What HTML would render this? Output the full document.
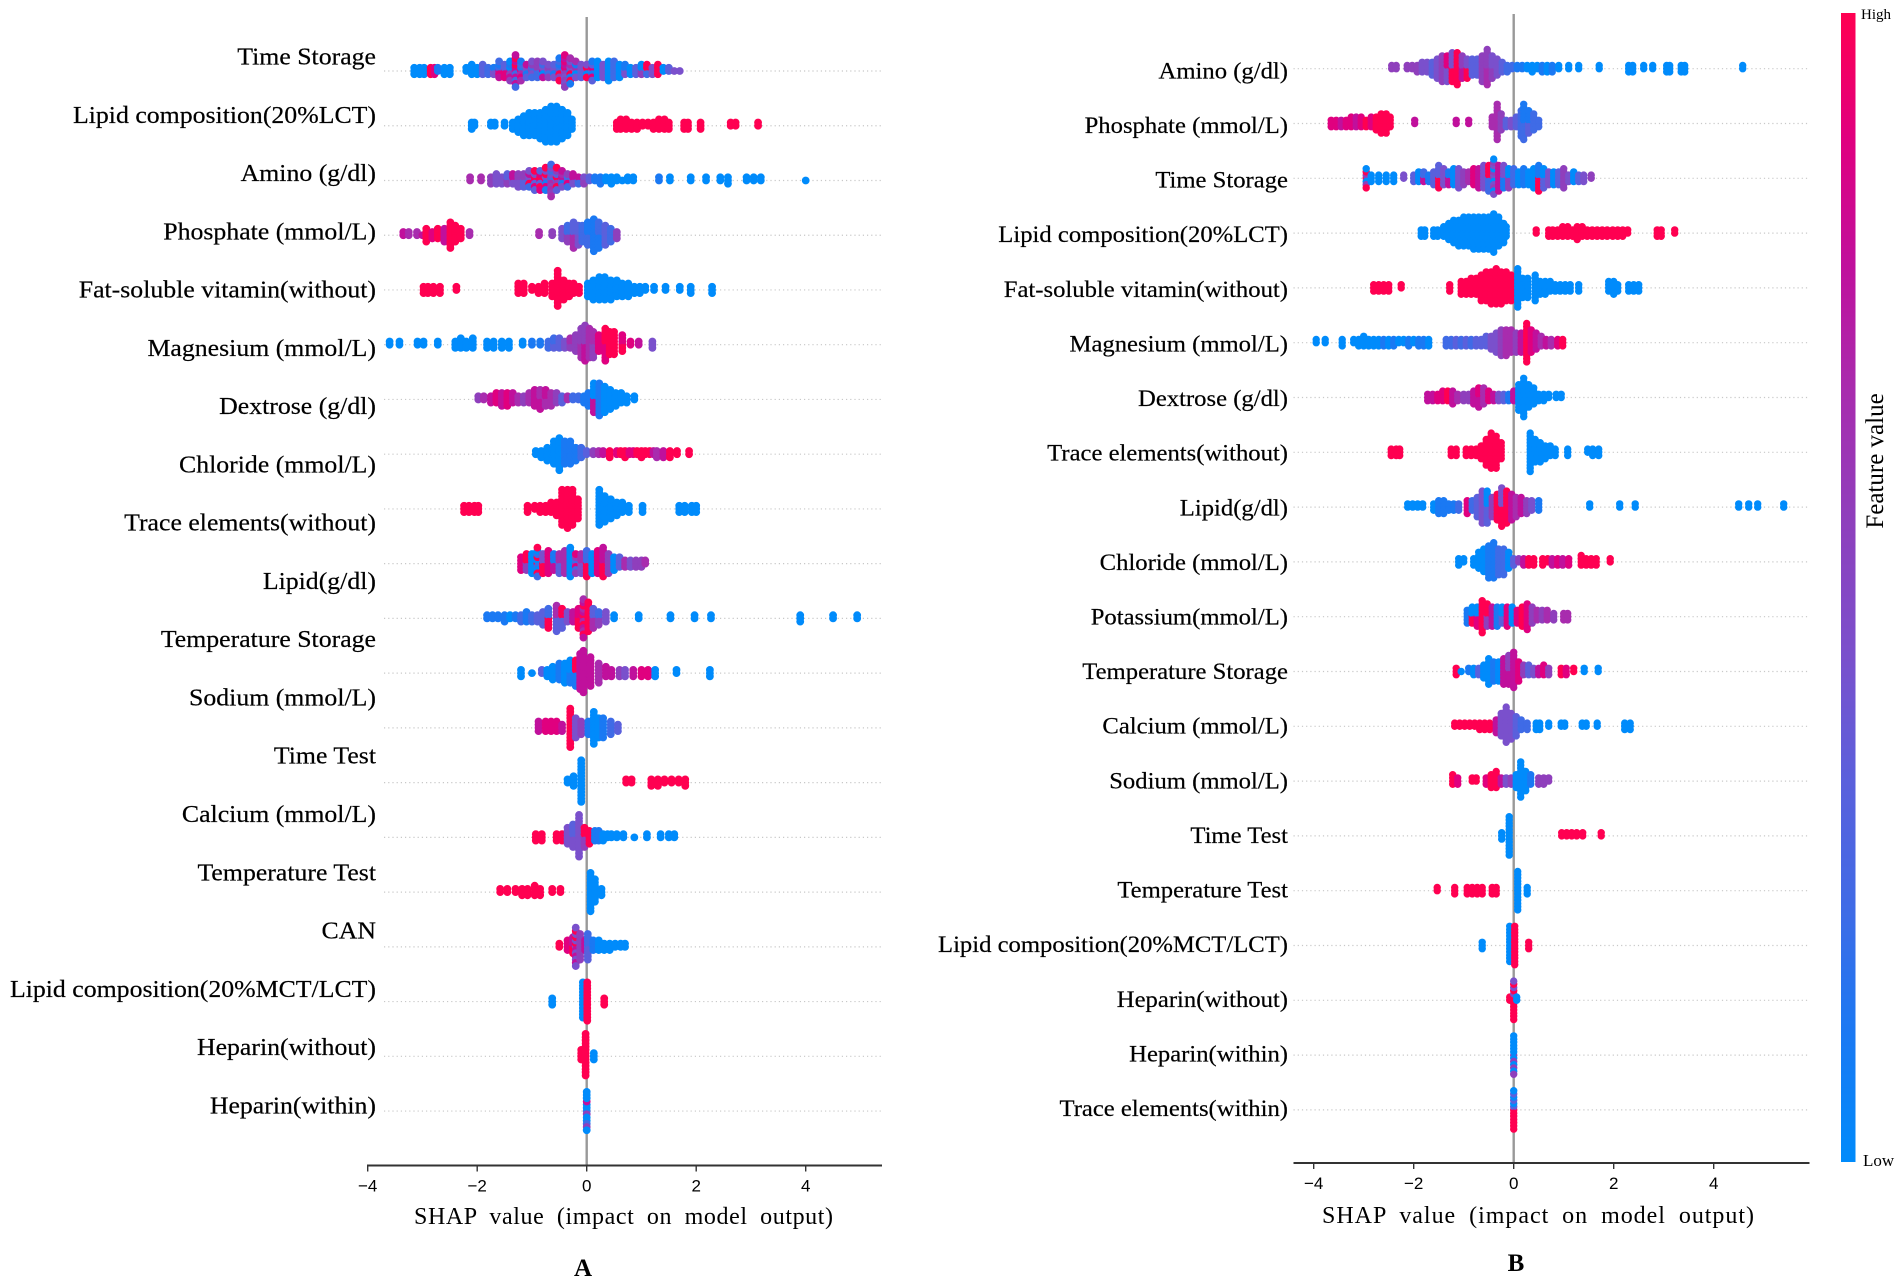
<!DOCTYPE html>
<html lang="en">
<head>
<meta charset="utf-8">
<title>SHAP summary plots A and B</title>
<style>
html,body{margin:0;padding:0;background:#fff;width:1902px;height:1285px;overflow:hidden}
svg{display:block}
text{font-family:"Liberation Serif",serif;fill:#000}
</style>
</head>
<body>
<svg id="chart" width="1902" height="1285" viewBox="0 0 1902 1285" xmlns="http://www.w3.org/2000/svg">
<defs>
<linearGradient id="barGrad" x1="0" y1="1" x2="0" y2="0">
<stop offset="0" stop-color="#008bfb"/><stop offset=".11" stop-color="#1a79f3"/><stop offset=".22" stop-color="#3f6be6"/><stop offset=".33" stop-color="#5a60dc"/><stop offset=".44" stop-color="#7a50cc"/><stop offset=".56" stop-color="#8f3fbc"/><stop offset=".67" stop-color="#a82cae"/><stop offset=".78" stop-color="#c0109c"/><stop offset=".89" stop-color="#e0007f"/><stop offset="1" stop-color="#ff0051"/>
</linearGradient>
</defs>
<rect x="1841" y="13" width="14.5" height="1149" fill="url(#barGrad)"/>
<text x="1861" y="19" font-size="15">High</text>
<text x="1863" y="1166" font-size="17">Low</text>
<text transform="translate(1883,461) rotate(-90)" text-anchor="middle" font-size="25">Feature value</text>
<text x="414" y="1224" font-size="24" word-spacing="6px" textLength="419">SHAP value (impact on model output)</text>
<text x="1322" y="1223" font-size="24" word-spacing="6px" textLength="432">SHAP value (impact on model output)</text>
<text x="583" y="1276" font-size="25" font-weight="bold" text-anchor="middle">A</text>
<text x="1516" y="1271" font-size="25" font-weight="bold" text-anchor="middle">B</text>
</svg>
<script>
/* Tick labels and categories */
const tickValues = [-4, -2, 0, 2, 4];
const labelsA = ["Time Storage","Lipid composition(20%LCT)","Amino (g/dl)","Phosphate (mmol/L)","Fat-soluble vitamin(without)","Magnesium (mmol/L)","Dextrose (g/dl)","Chloride (mmol/L)","Trace elements(without)","Lipid(g/dl)","Temperature Storage","Sodium (mmol/L)","Time Test","Calcium (mmol/L)","Temperature Test","CAN","Lipid composition(20%MCT/LCT)","Heparin(without)","Heparin(within)"];
const labelsB = ["Amino (g/dl)","Phosphate (mmol/L)","Time Storage","Lipid composition(20%LCT)","Fat-soluble vitamin(without)","Magnesium (mmol/L)","Dextrose (g/dl)","Trace elements(without)","Lipid(g/dl)","Chloride (mmol/L)","Potassium(mmol/L)","Temperature Storage","Calcium (mmol/L)","Sodium (mmol/L)","Time Test","Temperature Test","Lipid composition(20%MCT/LCT)","Heparin(without)","Heparin(within)","Trace elements(within)"];

/* Series: for each row, binned SHAP values, samples per bin, feature deciles per bin (digits 0=low..9=high) */
const aShap0=[-3.15,-3.05,-2.97,-2.85,-2.78,-2.72,-2.6,-2.5,-2.2,-2.1,-2,-1.9,-1.8,-1.7,-1.6,-1.5,-1.4,-1.3,-1.2,-1.1,-1,-.9,-.8,-.7,-.6,-.5,-.4,-.3,-.2,-.1,0,.1,.2,.3,.4,.5,.6,.7,.8,.9,1,1.1,1.2,1.3,1.4,1.5,1.6,1.7];
const aN0=[3,3,3,3,3,2,3,3,2,4,3,4,3,3,6,5,7,11,7,5,6,6,6,5,5,8,11,9,6,5,5,7,6,5,7,6,5,4,3,3,4,4,3,4,2,2,1,1];
const aF0=[0,0,0,9,8,1,0,0,0,0,0,3,2,41,7281,83,7051,7729,8162,3417,524,25,7402,452,341,5291,4857,1496,4601,34,490,381,0,4,0,2,0,41,0,3,50,29,4,9,0,3,4,4];
const aShap1=[-2.1,-2.05,-1.75,-1.68,-1.5,-1.35,-1.25,-1.15,-1.05,-.95,-.85,-.75,-.65,-.55,-.45,-.35,-.27,.55,.62,.72,.82,.92,1.02,1.12,1.22,1.32,1.42,1.5,1.78,1.85,2.08,2.63,2.72,3.13];
const aN1=[3,2,2,2,2,3,5,7,8,8,9,11,12,12,10,8,4,3,4,4,3,3,2,2,3,4,4,3,3,3,3,2,2,2];
const aF1=[0,0,0,0,0,0,0,0,0,0,0,0,0,0,0,0,0,9,9,9,9,9,9,9,9,9,9,9,9,9,9,9,9,9];
const aShap2=[-2.13,-1.93,-1.75,-1.65,-1.55,-1.45,-1.35,-1.25,-1.15,-1.05,-.95,-.85,-.75,-.65,-.55,-.45,-.35,-.25,-.15,-.05,.05,.15,.25,.35,.45,.55,.65,.75,.85,1.32,1.52,1.9,2.18,2.44,2.58,2.92,3.05,3.18,4];
const aN2=[2,2,3,4,3,4,4,5,5,6,7,7,8,11,8,6,5,4,3,3,2,2,3,2,3,2,1,2,2,2,2,2,2,2,3,2,2,2,1];
const aF2=[6,6,5,4,4,53,47,45,35,2497,8934,893,8419,5264,395,4716,528,47,27,54,3,1,1,0,0,0,0,0,0,1,0,0,0,0,0,0,0,0,0];
const aShap3=[-3.35,-3.25,-3.1,-3,-2.93,-2.82,-2.72,-2.6,-2.49,-2.4,-2.3,-2.14,-.87,-.63,-.45,-.35,-.24,-.15,-.08,.02,.13,.22,.34,.44,.55];
const aN3=[2,2,2,1,5,3,4,5,9,6,4,2,2,2,4,6,9,7,6,8,11,9,7,5,3];
const aF3=[7,6,6,7,9,8,9,7,9,9,9,6,6,5,4,52,63,43,2,21,1,12,3,2,5];
const aShap4=[-2.98,-2.9,-2.8,-2.68,-2.38,-1.25,-1.15,-1,-.88,-.77,-.63,-.53,-.42,-.32,-.24,-.14,.02,.12,.23,.33,.44,.55,.65,.76,.87,.97,1.07,1.23,1.44,1.7,1.9,2.29];
const aN4=[3,3,3,3,2,4,4,2,3,4,5,12,7,5,4,3,5,7,8,8,7,6,5,5,3,3,2,2,2,2,3,3];
const aF4=[9,9,9,9,9,9,9,9,9,9,9,9,9,9,9,9,0,0,0,0,0,0,0,0,0,0,0,0,0,0,0,0];
const aShap5=[-3.6,-3.42,-3.09,-2.98,-2.72,-2.4,-2.3,-2.2,-2.08,-1.82,-1.7,-1.55,-1.42,-1.17,-1,-.85,-.7,-.6,-.5,-.4,-.3,-.2,-.1,-.03,.05,.12,.22,.34,.42,.5,.65,.8,.95,1.2];
const aN5=[2,2,2,2,2,3,4,3,4,3,3,3,3,2,2,2,3,4,4,3,4,6,10,12,10,9,6,11,8,8,6,2,2,3];
const aF5=[0,0,0,0,0,0,0,0,0,0,0,0,0,0,1,1,2,32,3,4,56,5,65,75,6,56,8,89,9,9,98,8,7,4];
const aShap6=[-1.98,-1.88,-1.75,-1.65,-1.55,-1.45,-1.35,-1.25,-1.15,-1.05,-.95,-.85,-.75,-.65,-.55,-.45,-.35,-.25,-.15,-.05,.03,.13,.23,.33,.43,.53,.63,.73,.87];
const aN6=[2,2,3,4,5,5,4,3,3,4,6,7,6,5,4,3,2,2,2,3,5,10,11,9,7,5,4,3,2];
const aF6=[5,6,7,8,7,8,7,6,5,6,7,76,67,6,5,3,6,2,2,1,1,70,1,0,0,0,0,0,0];
const aShap7=[-.93,-.83,-.72,-.6,-.5,-.4,-.3,-.2,-.1,0,.12,.22,.3,.42,.55,.62,.7,.78,.85,.92,1,1.07,1.15,1.22,1.28,1.4,1.52,1.65,1.87];
const aN7=[2,3,5,8,11,8,8,5,4,2,2,2,2,3,2,2,3,2,2,2,3,2,2,2,3,3,3,2,2];
const aF7=[0,0,0,0,0,1,1,1,2,3,5,6,7,9,8,9,9,8,8,9,9,9,9,7,6,7,9,9,9];
const aShap8=[-2.24,-2.15,-2.05,-1.98,-1.08,-.95,-.85,-.75,-.65,-.55,-.45,-.35,-.26,-.16,.23,.33,.44,.55,.65,.77,1.02,1.69,1.79,1.92,2];
const aN8=[3,3,3,3,3,2,3,3,4,5,12,13,12,7,12,9,7,5,4,3,3,3,3,3,3];
const aF8=[9,9,9,9,9,9,9,9,9,9,9,9,9,9,0,0,0,0,0,0,0,0,0,0,0];
const aShap9=[-1.2,-1.1,-1,-.9,-.8,-.7,-.6,-.5,-.4,-.3,-.2,-.1,0,.1,.2,.3,.4,.5,.6,.7,.8,.9,1,1.07];
const aN9=[5,6,7,10,7,8,6,7,8,10,7,7,9,7,8,10,7,5,4,3,3,3,3,2];
const aF9=[8,59,0,902,94,8,71,36,6,0,528,46,92,0,8,97,5,0,3,6,4,5,5,6];
const aShap10=[-1.82,-1.72,-1.62,-1.5,-1.4,-1.3,-1.2,-1.1,-1,-.9,-.8,-.7,-.55,-.45,-.35,-.25,-.15,-.06,.03,.12,.22,.35,.5,.95,1.53,1.97,2.27,3.9,4.5,4.94];
const aN10=[2,2,2,3,2,2,3,4,3,3,5,7,9,7,4,4,7,13,10,7,5,4,2,2,2,2,2,3,2,2];
const aF10=[1,1,1,1,0,1,2,1,2,3,3,92,36,39,4,7,98,796,9,63,52,4,0,0,0,0,0,0,0,0];
const aShap11=[-1.2,-1,-.82,-.72,-.62,-.5,-.4,-.3,-.2,-.12,-.06,.07,.22,.35,.45,.6,.7,.85,1,1.12,1.25,1.64,2.25];
const aN11=[3,1,2,3,5,6,7,8,9,12,14,10,7,4,3,3,3,3,3,3,3,2,3];
const aF11=[0,0,3,0,0,1,0,10,19,7,7,7,6,7,7,5,4,7,8,8,0,0,0];
const aShap12=[-.88,-.75,-.65,-.55,-.45,-.3,-.2,-.1,.03,.13,.22,.3,.44,.57];
const aN12=[4,4,4,4,3,13,7,5,5,11,7,7,5,3];
const aF12=[7,8,8,8,7,9,4,5,1,0,0,1,2,3];
const aShap13=[-.35,-.24,-.1,.72,.82,1.18,1.3,1.42,1.55,1.68,1.8];
const aN13=[2,4,14,2,2,3,3,2,2,2,3];
const aF13=[0,0,0,9,9,9,9,9,9,9,9];
const aShap14=[-.93,-.82,-.55,-.45,-.35,-.25,-.14,-.04,.05,.15,.22,.3,.38,.45,.55,.67,.87,1.1,1.35,1.5,1.6];
const aN14=[3,3,3,3,6,8,14,7,5,4,4,3,2,2,2,2,1,2,2,2,2];
const aF14=[9,9,9,9,4,43,4,59,9,1,1,0,0,0,0,0,0,0,0,0,0];
const aShap15=[-1.58,-1.45,-1.3,-1.18,-1.08,-.95,-.85,-.63,-.48,.07,.15,.27];
const aN15=[2,2,2,3,3,4,3,2,2,13,8,3];
const aF15=[9,9,9,9,9,9,9,9,9,0,0,0];
const aShap16=[-.5,-.35,-.25,-.2,-.12,-.03,.02,.12,.22,.32,.42,.52,.62,.7];
const aN16=[2,4,6,13,9,4,9,4,4,3,3,2,2,2];
const aF16=[9,8,97,4974,5,7,32,1,0,0,0,0,0,0];
const aShap17=[-.63,-.07,.01,.32];
const aN17=[3,12,13,3];
const aF17=[0,0,9,9];
const aShap18=[-.1,-.02,.13];
const aN18=[4,14,3];
const aF18=[9,9,0];
const aShap19=[0];
const aN19=[13];
const aF19=[20500700];

const bShap0=[-2.44,-2.35,-2.13,-2.03,-1.93,-1.83,-1.73,-1.63,-1.53,-1.43,-1.33,-1.23,-1.13,-1.03,-.93,-.83,-.73,-.63,-.53,-.43,-.33,-.23,-.13,-.03,.07,.17,.27,.37,.47,.57,.67,.77,.9,1.1,1.3,1.71,2.3,2.38,2.6,2.78,3.06,3.12,3.35,3.42,4.58];
const bN0=[2,2,2,2,3,4,4,5,7,9,9,10,11,8,7,6,6,9,12,8,6,4,3,2,2,2,2,3,2,3,3,3,2,2,2,2,3,3,2,2,3,3,3,3,2];
const bF0=[5,5,5,5,5,4,4,3,4,5,48,94,9,75,94,3,3,5,65,54,4,3,2,2,1,1,0,0,0,1,0,1,0,0,0,0,0,0,0,0,0,0,0,0,0];
const bShap1=[-3.65,-3.55,-3.45,-3.35,-3.25,-3.15,-3.05,-2.95,-2.85,-2.75,-2.65,-2.55,-2.47,-1.98,-1.15,-.9,-.43,-.33,-.25,-.15,-.05,.05,.15,.2,.3,.4,.5];
const bN1=[3,3,3,3,4,4,4,3,4,5,7,7,4,2,2,2,4,12,6,3,3,4,9,12,8,6,3];
const bF1=[8,8,7,8,8,7,8,9,8,9,9,9,9,7,7,7,6,6,5,3,4,3,2,21,31,2,2];
const bShap2=[-2.95,-2.85,-2.7,-2.55,-2.4,-2.2,-2,-1.9,-1.8,-1.7,-1.6,-1.5,-1.4,-1.3,-1.2,-1.1,-1,-.9,-.8,-.7,-.6,-.5,-.4,-.3,-.2,-.1,0,.1,.2,.3,.4,.5,.6,.7,.8,.9,1,1.1,1.2,1.3,1.4,1.55];
const bN2=[7,3,3,3,3,2,3,4,4,3,5,8,6,5,6,7,5,4,6,7,8,9,12,9,8,7,6,5,6,5,7,9,7,5,5,5,7,3,4,3,3,2];
const bF2=[950,0,0,0,0,4,3,0,72,1,3,93,4,71,0,4,5,6,8,7,4,29,540,7,14,50,2,0,1,0,0,91,30,4,0,3,5,4,0,3,4,5];
const bShap3=[-1.85,-1.78,-1.6,-1.52,-1.4,-1.3,-1.2,-1.1,-1,-.9,-.8,-.7,-.6,-.5,-.4,-.3,-.2,-.15,.45,.7,.78,.88,.98,1.08,1.18,1.27,1.37,1.47,1.57,1.67,1.77,1.87,1.98,2.08,2.18,2.28,2.87,2.95,3.22];
const bN3=[3,3,3,3,4,6,8,9,10,10,11,11,11,11,13,10,7,4,2,3,3,3,4,4,3,5,4,3,3,3,3,3,3,3,3,2,3,3,2];
const bF3=[0,0,0,0,0,0,0,0,0,0,0,0,0,0,0,0,0,0,9,9,9,9,9,9,9,9,9,9,9,9,9,9,9,9,9,9,9,9,9];
const bShap4=[-2.8,-2.7,-2.6,-2.5,-2.25,-1.28,-1.05,-.95,-.85,-.75,-.65,-.55,-.45,-.35,-.25,-.15,-.05,.08,.18,.28,.43,.53,.63,.73,.83,.93,1.03,1.13,1.3,1.9,2,2.08,2.3,2.4,2.5];
const bN4=[3,3,3,3,2,3,5,5,6,6,9,10,11,12,11,10,9,13,7,7,9,5,5,4,3,3,3,3,3,4,5,3,3,3,3];
const bF4=[9,9,9,9,9,9,9,9,9,9,9,9,9,9,9,9,9,0,0,0,0,0,0,0,0,0,0,0,0,0,0,0,0,0,0];
const bShap5=[-3.95,-3.77,-3.43,-3.2,-3.1,-3,-2.9,-2.8,-2.7,-2.6,-2.5,-2.4,-2.3,-2.2,-2.1,-2,-1.9,-1.8,-1.7,-1.35,-1.25,-1.15,-1.05,-.95,-.85,-.75,-.65,-.55,-.45,-.35,-.25,-.15,-.05,.05,.15,.26,.35,.45,.55,.65,.75,.88,.98];
const bN5=[2,2,3,2,3,4,3,3,3,3,3,3,2,2,3,2,3,3,3,3,3,3,3,3,3,3,3,4,5,7,9,9,8,7,7,13,8,6,4,3,3,3,3];
const bF5=[0,0,0,0,0,0,0,0,0,1,0,1,0,0,1,0,1,1,0,2,2,3,2,3,2,3,3,3,4,4,5,6,6,5,7,9,8,7,6,7,6,8,9];
const bShap6=[-1.72,-1.62,-1.52,-1.42,-1.32,-1.22,-1.12,-1,-.9,-.8,-.7,-.6,-.5,-.4,-.3,-.2,-.1,0,.1,.2,.3,.4,.5,.6,.7,.85,.95];
const bN6=[3,3,3,4,4,5,3,3,3,5,7,6,4,3,3,3,3,4,9,13,8,6,3,3,2,2,2];
const bF6=[7,7,8,8,9,7,6,5,5,7,78,6,8,7,4,3,1,7,0,0,0,0,0,0,0,0,0];
const bShap7=[-2.45,-2.35,-2.28,-1.25,-1.15,-.95,-.85,-.75,-.65,-.55,-.45,-.35,-.25,.33,.43,.53,.63,.73,.83,1.08,1.48,1.58,1.7];
const bN7=[3,3,3,3,3,3,3,3,5,9,12,11,6,13,8,7,5,4,3,3,2,3,3];
const bF7=[9,9,9,9,9,9,9,9,9,9,9,9,9,0,0,0,0,0,0,0,0,0,0];
const bShap8=[-2.12,-2.02,-1.92,-1.82,-1.6,-1.5,-1.4,-1.3,-1.2,-1.1,-.93,-.83,-.73,-.63,-.53,-.43,-.33,-.24,-.14,-.04,.05,.15,.26,.36,.5,1.52,2.12,2.43,4.5,4.7,4.88,5.4];
const bN8=[2,2,2,2,3,5,5,3,3,3,5,4,7,11,11,7,9,13,11,9,7,6,5,4,4,2,2,2,2,2,2,2];
const bF8=[0,0,0,0,0,1,1,1,1,2,8,2,3,4,30,5,9,94,9,7,6,7,5,4,1,0,0,0,0,0,0,0];
const bShap9=[-1.1,-1,-.8,-.7,-.6,-.5,-.4,-.3,-.2,-.1,0,.1,.2,.3,.4,.58,.68,.77,.88,.98,1.1,1.35,1.45,1.55,1.65,1.93];
const bN9=[3,2,3,6,8,11,12,9,9,6,3,2,3,3,3,3,2,3,3,3,3,4,3,3,3,2];
const bF9=[0,0,0,0,0,1,1,2,2,0,3,5,7,9,9,9,9,7,8,7,8,9,9,9,9,9];
const bShap10=[-.93,-.83,-.73,-.63,-.53,-.43,-.33,-.23,-.13,-.03,.07,.17,.27,.37,.47,.57,.67,.8,1,1.08];
const bN10=[5,6,7,11,8,7,7,6,7,6,5,7,9,6,4,4,4,3,3,3];
const bF10=[1,90,80,9,59,7,1,30,8,0,8,9,8,5,6,5,6,5,6,6];
const bShap11=[-1.15,-1.05,-.9,-.8,-.7,-.6,-.5,-.4,-.3,-.2,-.1,0,.1,.2,.3,.4,.5,.6,.7,.95,1.05,1.2,1.41,1.69];
const bN11=[3,1,2,3,3,5,9,7,7,9,10,12,7,4,4,3,3,4,3,3,3,2,2,2];
const bF11=[9,0,1,0,3,0,0,1,0,7,75,7,8,5,3,4,7,8,5,9,8,9,0,0];
const bShap12=[-1.18,-1.08,-.98,-.88,-.78,-.68,-.58,-.48,-.35,-.25,-.15,-.05,.05,.15,.27,.45,.52,.7,.95,1.02,1.37,1.45,1.67,2.22,2.33];
const bN12=[2,2,2,2,2,3,3,3,5,8,12,9,7,4,3,3,3,2,2,2,2,2,2,3,3];
const bF12=[9,9,9,9,9,9,9,9,7,4,4,4,3,2,2,0,0,0,0,0,0,0,0,0,0];
const bShap13=[-1.22,-1.12,-.83,-.75,-.55,-.45,-.35,-.25,-.15,-.05,.05,.14,.24,.34,.5,.6,.7];
const bN13=[4,3,2,2,3,5,6,3,3,3,5,12,7,4,3,3,2];
const bF13=[9,8,9,9,8,9,9,7,4,5,0,0,0,1,5,5,5];
const bShap14=[-.24,-.09,.96,1.06,1.16,1.26,1.38,1.75];
const bN14=[3,13,2,2,2,2,2,2];
const bF14=[0,0,9,9,9,9,9,9];
const bShap15=[-1.53,-1.18,-.93,-.83,-.73,-.63,-.43,-.35,.08,.27];
const bN15=[2,3,3,3,3,3,3,3,13,3];
const bF15=[9,9,9,9,9,9,9,9,0,0];
const bShap16=[-.63,-.08,.02,.3];
const bN16=[3,12,13,3];
const bF16=[0,0,9,9];
const bShap17=[-.08,0,.06];
const bN17=[2,13,2];
const bF17=[9,9994,0];
const bShap18=[0];
const bN18=[13];
const bF18=[5000];
const bShap19=[0];
const bN19=[13];
const bF19=[9390];

const rowsA=[[aShap0,aN0,aF0],[aShap1,aN1,aF1],[aShap2,aN2,aF2],[aShap3,aN3,aF3],[aShap4,aN4,aF4],[aShap5,aN5,aF5],[aShap6,aN6,aF6],[aShap7,aN7,aF7],[aShap8,aN8,aF8],[aShap9,aN9,aF9],[aShap10,aN10,aF10],[aShap11,aN11,aF11],[aShap12,aN12,aF12],[aShap13,aN13,aF13],[aShap14,aN14,aF14],[aShap15,aN15,aF15],[aShap16,aN16,aF16],[aShap17,aN17,aF17],[aShap18,aN18,aF18],[aShap19,aN19,aF19]];
const rowsB=[[bShap0,bN0,bF0],[bShap1,bN1,bF1],[bShap2,bN2,bF2],[bShap3,bN3,bF3],[bShap4,bN4,bF4],[bShap5,bN5,bF5],[bShap6,bN6,bF6],[bShap7,bN7,bF7],[bShap8,bN8,bF8],[bShap9,bN9,bF9],[bShap10,bN10,bF10],[bShap11,bN11,bF11],[bShap12,bN12,bF12],[bShap13,bN13,bF13],[bShap14,bN14,bF14],[bShap15,bN15,bF15],[bShap16,bN16,bF16],[bShap17,bN17,bF17],[bShap18,bN18,bF18],[bShap19,bN19,bF19]];

const decileColors=['#008bfb','#1a79f3','#3f6be6','#5a60dc','#7a50cc','#8f3fbc','#a82cae','#c0109c','#e0007f','#ff0051'];
const svg=document.getElementById('chart');
const NS='http://www.w3.org/2000/svg';
function make(tag,parent){const el=document.createElementNS(NS,tag);parent.appendChild(el);return el;}

function drawPanel(p){
  const g=make('g',svg);
  
  
  const sx=v=>p.x0+p.unit*v;
  const sy=i=>p.y0+p.rowStep*i;
  p.rows.forEach((r,i)=>{
    const ln=make('line',g);
    
    
    ln.setAttribute('x1',p.left);ln.setAttribute('x2',p.right);
    ln.setAttribute('y1',sy(i));ln.setAttribute('y2',sy(i));
    ln.setAttribute('stroke','#c8c8c8');ln.setAttribute('stroke-width','1.2');ln.setAttribute('stroke-dasharray','1.2 3');
  });
  const zero=make('line',g);
  
  
  zero.setAttribute('x1',sx(0));zero.setAttribute('x2',sx(0));
  zero.setAttribute('y1',p.top);zero.setAttribute('y2',p.axisY);
  zero.setAttribute('stroke','#999');zero.setAttribute('stroke-width','2.4');
  p.rows.forEach((r,i)=>{
    const shap=r[0],count=r[1],feat=r[2];
    shap.forEach((v,c)=>{
      const digits=String(feat[c]);
      for(let k=0;k<count[c];k++){
        const off=Math.ceil(k/2)*(k%2?-1:1)*p.stackStep;
        const dot=make('circle',g);
        
        
        dot.setAttribute('cx',sx(v));
        dot.setAttribute('cy',sy(i)+off);
        dot.setAttribute('r',p.dotR);
        dot.setAttribute('fill',decileColors[+digits[k%digits.length]]);
      }
    });
  });
  p.labels.forEach((t,i)=>{
    const tx=make('text',g);
    
    
    tx.setAttribute('text-anchor','end');
    tx.setAttribute('font-size',p.labelSize);
    tx.setAttribute('stroke','#000');
    tx.setAttribute('stroke-width','0.2');
    tx.setAttribute('transform','translate('+p.labelX+','+(p.labelY0+p.labelStep*i)+') scale('+p.labelScale+',1)');
    tx.textContent=t;
  });
  const axis=make('line',g);
  
  
  axis.setAttribute('x1',p.left-p.axisPad);axis.setAttribute('x2',p.right);
  axis.setAttribute('y1',p.axisY);axis.setAttribute('y2',p.axisY);
  axis.setAttribute('stroke','#333');axis.setAttribute('stroke-width','2');
  tickValues.forEach(v=>{
    const tk=make('line',g);
    
    
    tk.setAttribute('x1',sx(v));tk.setAttribute('x2',sx(v));
    tk.setAttribute('y1',p.axisY);tk.setAttribute('y2',p.axisY+6);
    tk.setAttribute('stroke','#333');tk.setAttribute('stroke-width','1.4');
    const tl=make('text',g);
    
    
    tl.setAttribute('x',sx(v));tl.setAttribute('y',p.axisY+26);
    tl.setAttribute('text-anchor','middle');
    tl.setAttribute('font-size','17');
    tl.setAttribute('style','font-family:"Liberation Sans",sans-serif');
    tl.textContent=v<0?'\u2212'+Math.abs(v):String(v);
  });
}

drawPanel({id:'panel-a',rows:rowsA,labels:labelsA,x0:586.7,unit:54.75,y0:71,rowStep:54.74,left:384,right:882,axisPad:17,top:17,axisY:1165.5,stackStep:3.2,dotR:3.9,labelX:376,labelY0:64.5,labelStep:58.27,labelSize:24,labelScale:1.075});
drawPanel({id:'panel-b',rows:rowsB,labels:labelsB,x0:1513.7,unit:50,y0:68.7,rowStep:54.8,left:1293.5,right:1809.5,axisPad:0,top:14,axisY:1163,stackStep:3.2,dotR:3.7,labelX:1288,labelY0:78.3,labelStep:54.62,labelSize:23.5,labelScale:1.05});
</script>
</body>
</html>
